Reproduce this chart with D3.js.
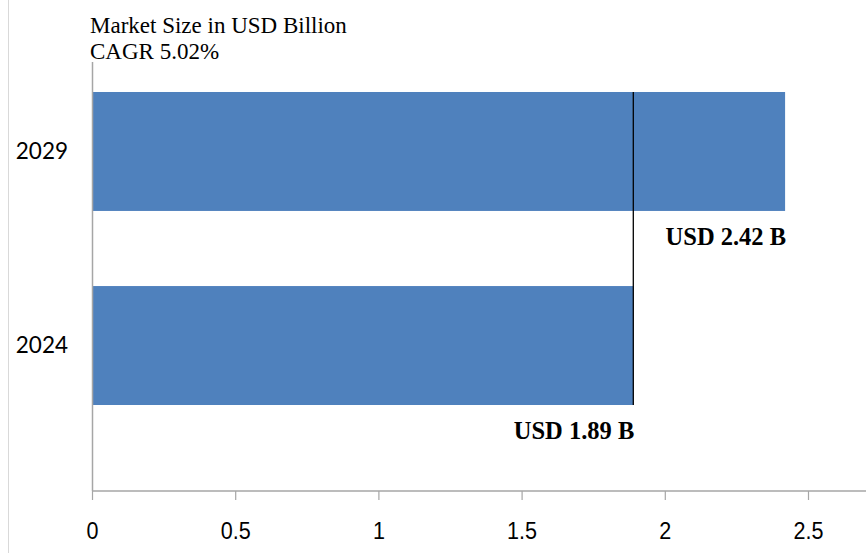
<!DOCTYPE html>
<html><head><meta charset="utf-8">
<script src="https://cdn.jsdelivr.net/npm/d3@7/dist/d3.min.js"></script>
<style>body{margin:0;background:#fff}svg{display:block}</style>
</head><body>
<svg id="c" width="866" height="553"></svg>
<script>
const categories = ["2029", "2024"];
const values = [2.42, 1.89];
const valueLabels = ["USD 2.42 B", "USD 1.89 B"];
const xTicks = [0, 0.5, 1, 1.5, 2, 2.5];
const titleLines = ["Market Size in USD Billion", "CAGR 5.02%"];

const svg = d3.select("#c");
const x = d3.scaleLinear().domain([0, 2.5]).range([92, 808]);
const y = d3.scaleBand().domain(categories).range([7, 490]).paddingInner(0.387).paddingOuter(0.438);

// left border
svg.append("line").attr("x1", 8.5).attr("x2", 8.5).attr("y1", 0).attr("y2", 553)
  .attr("stroke", "#d9d9d9").attr("stroke-width", 1);

// bars
svg.selectAll("rect.bar").data(categories).enter().append("rect")
  .attr("x", x(0)).attr("y", d => y(d))
  .attr("width", (d, i) => x(values[i]) - x(0))
  .attr("height", y.bandwidth())
  .attr("fill", "#4f81bd");

// y axis line
svg.append("line").attr("x1", x(0) + 0.5).attr("x2", x(0) + 0.5).attr("y1", 62).attr("y2", 491)
  .attr("stroke", "#a6a6a6").attr("stroke-width", 1.5);

// x axis
const xAxis = d3.axisBottom(x).tickValues(xTicks).tickSize(9).tickPadding(22)
  .tickFormat(d => String(d));
const gx = svg.append("g").attr("transform", "translate(0,491)").call(xAxis);
gx.select(".domain").remove();
gx.append("line").attr("x1", x(0)).attr("x2", 866).attr("y1", 0).attr("y2", 0)
  .attr("stroke", "#a6a6a6").attr("stroke-width", 1.5);
gx.selectAll(".tick line").attr("stroke", "#a6a6a6").attr("stroke-width", 1.2);
gx.selectAll(".tick text").attr("fill", "#000")
  .attr("transform", "scale(0.88,1)")
  .style("font-family", "'Liberation Sans', Arial, sans-serif")
  .style("font-size", "24.5px");

// category labels
svg.selectAll("text.cat").data(categories).enter().append("text")
  .attr("x", 68).attr("y", d => y(d) + y.bandwidth() / 2)
  .attr("dy", "0.35em").attr("text-anchor", "end")
  .style("font-family", "Lato, 'Open Sans', sans-serif").style("font-size", "22.5px")
  .attr("fill", "#000").text(d => d);

// vertical reference line at 2024 value
svg.append("line")
  .attr("x1", x(values[1])).attr("x2", x(values[1]))
  .attr("y1", y(categories[0])).attr("y2", y(categories[1]) + y.bandwidth())
  .attr("stroke", "#000").attr("stroke-width", 1.3);

// value labels
svg.selectAll("text.val").data(categories).enter().append("text")
  .attr("x", (d, i) => x(values[i]) + 1)
  .attr("y", d => y(d) + y.bandwidth() + 34)
  .attr("text-anchor", "end")
  .style("font-family", "'Liberation Serif', serif").style("font-size", "24.5px").style("font-weight", "bold")
  .attr("fill", "#000").text((d, i) => valueLabels[i]);

// title
svg.selectAll("text.title").data(titleLines).enter().append("text")
  .attr("x", 90).attr("y", (d, i) => 33 + i * 26)
  .style("font-family", "'Liberation Serif', serif").style("font-size", "23px")
  .attr("fill", "#000").text(d => d);
</script>
</body></html>
